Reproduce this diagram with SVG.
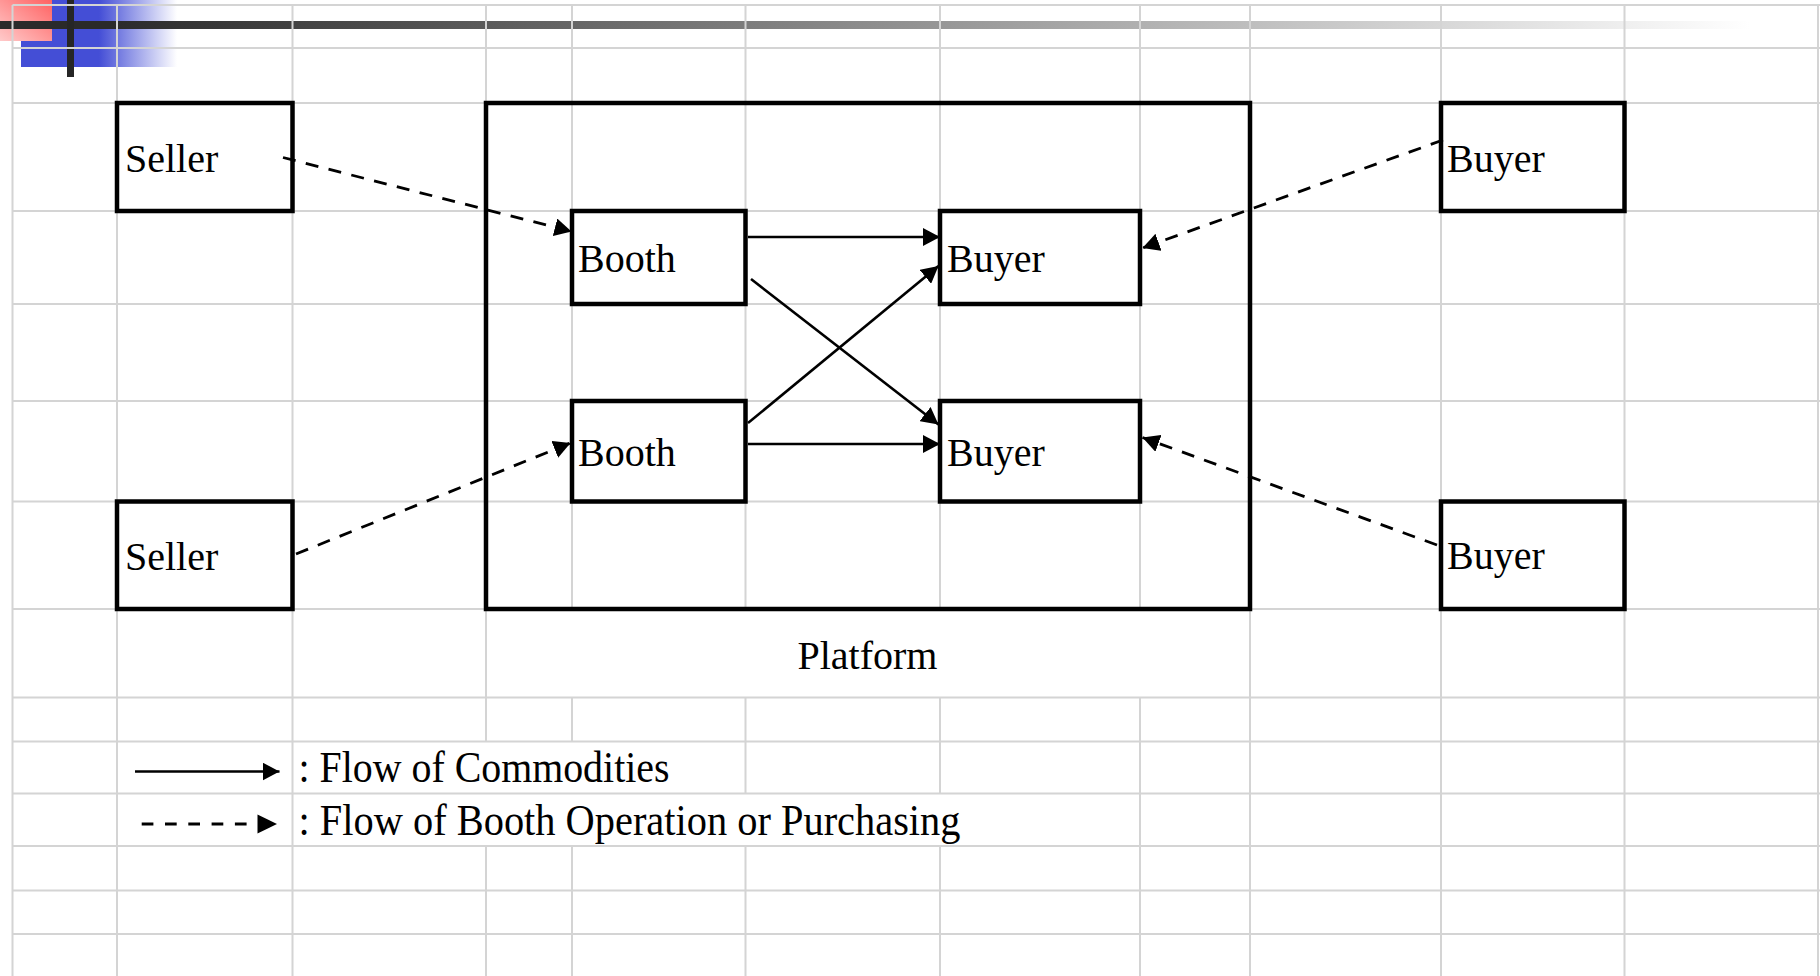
<svg xmlns="http://www.w3.org/2000/svg" width="1820" height="976" viewBox="0 0 1820 976">
  <defs>
    <linearGradient id="blueFade" gradientUnits="userSpaceOnUse" x1="21" y1="0" x2="177" y2="0">
      <stop offset="0" stop-color="#444ed6"/>
      <stop offset="0.5" stop-color="#444ed6"/>
      <stop offset="1" stop-color="#444ed6" stop-opacity="0"/>
    </linearGradient>
    <linearGradient id="redFade" x1="0" y1="1" x2="1" y2="0">
      <stop offset="0" stop-color="#ffcaca"/>
      <stop offset="1" stop-color="#ff6262"/>
    </linearGradient>
    <linearGradient id="barFade" gradientUnits="userSpaceOnUse" x1="110" y1="0" x2="1750" y2="0">
      <stop offset="0" stop-color="#2a2a2a"/>
      <stop offset="1" stop-color="#ffffff"/>
    </linearGradient>
    <marker id="ah" markerUnits="userSpaceOnUse" markerWidth="18" markerHeight="18" refX="17" refY="9" orient="auto">
      <path d="M0,0 L17,9 L0,18 Z" fill="#000"/>
    </marker>
    <style>
      .grid { stroke: #d4d4d4; stroke-width: 2; fill: none; }
      .box { fill: #fff; stroke: #000; stroke-width: 4.5; }
      .frame { fill: none; stroke: #000; stroke-width: 4.5; }
      .lbl { font-family: "Liberation Serif", "Times New Roman", serif; font-size: 40px; fill: #000; }
      .legend { font-family: "Liberation Serif", "Times New Roman", serif; font-size: 44px; fill: #000; }
      .solid { stroke: #000; stroke-width: 2.6; fill: none; marker-end: url(#ah); }
      .dash { stroke: #000; stroke-width: 2.8; fill: none; stroke-dasharray: 13 10.5; marker-end: url(#ah); }
      .head { fill: #000; }
    </style>
  </defs>

  <rect width="1820" height="976" fill="#fff"/>

  <!-- corner ornament -->
  <g id="ornament">
    <rect x="21" y="0" width="156" height="67" fill="url(#blueFade)"/>
    <rect x="0" y="0" width="52" height="41" fill="url(#redFade)"/>
    <rect x="0" y="21" width="1760" height="8" fill="url(#barFade)"/>
    <rect x="67" y="0" width="7" height="77" fill="#262626"/>
  </g>

  <!-- sheet grid -->
  <g id="grid" class="grid">
    <path d="M12.5,5 V976 M117,5 V976 M292.5,5 V976
             M486,5 V741.5 M486,846 V976
             M572,5 V609 M572,697.5 V741.5 M572,846 V976
             M745.5,5 V609 M745.5,697.5 V793.5 M745.5,846 V976
             M940,5 V609 M940,697.5 V793.5 M940,846 V976
             M1140,5 V609 M1140,697.5 V976
             M1250,5 V976 M1441,5 V976 M1624.5,5 V976 M1818,5 V976"/>
    <path d="M12.5,5 H1820 M12.5,48 H1820 M12.5,103 H1820 M12.5,211 H1820
             M12.5,304 H1820 M12.5,401 H1820 M12.5,501.5 H1820 M12.5,609 H1820
             M12.5,697.5 H1820 M12.5,741.5 H1820 M12.5,793.5 H1820 M12.5,846 H1820
             M12.5,890.5 H1820 M12.5,934 H1820"/>
  </g>

  <!-- platform frame -->
  <g id="platform">
    <rect class="frame" x="486" y="103" width="764" height="506"/>
    <text class="lbl" x="867.5" y="668.5" text-anchor="middle" font-size="41">Platform</text>
  </g>

  <g id="seller1">
    <rect class="box" x="117" y="103" width="175.5" height="108"/>
    <text class="lbl" x="125" y="172">Seller</text>
  </g>
  <g id="seller2">
    <rect class="box" x="117" y="501.5" width="175.5" height="107.5"/>
    <text class="lbl" x="125" y="570">Seller</text>
  </g>

  <g id="booth1">
    <rect class="box" x="572" y="211" width="173.5" height="93"/>
    <text class="lbl" x="578" y="272">Booth</text>
  </g>
  <g id="booth2">
    <rect class="box" x="572" y="401" width="173.5" height="100.5"/>
    <text class="lbl" x="578" y="466">Booth</text>
  </g>

  <g id="buyer-in1">
    <rect class="box" x="940" y="211" width="200" height="93"/>
    <text class="lbl" x="947" y="272">Buyer</text>
  </g>
  <g id="buyer-in2">
    <rect class="box" x="940" y="401" width="200" height="100.5"/>
    <text class="lbl" x="947" y="466">Buyer</text>
  </g>

  <g id="buyer-out1">
    <rect class="box" x="1441" y="103" width="183.5" height="108"/>
    <text class="lbl" x="1447" y="171.5">Buyer</text>
  </g>
  <g id="buyer-out2">
    <rect class="box" x="1441" y="501.5" width="183.5" height="107.5"/>
    <text class="lbl" x="1447" y="569">Buyer</text>
  </g>

  <!-- flows -->
  <g id="connectors">
    <path class="solid" d="M748,237 L940,237"/>
    <path class="solid" d="M748,444 L940,444"/>
    <path class="solid" d="M751,279 L938.5,424.5"/>
    <path class="solid" d="M748,423 L938.5,266"/>
    <path class="dash" d="M283,157.5 L571.5,231.5"/>
    <path class="dash" d="M296,554 L570.5,443"/>
    <path class="dash" d="M1443,140 L1142.5,248"/>
    <path class="dash" d="M1437,545 L1142.5,437.5"/>
  </g>

  <!-- key -->
  <g id="legend">
    <path class="solid" d="M135,771.5 L279.5,771.5"/>
    <path d="M141.7,824 L247,824" stroke="#000" stroke-width="2.8" stroke-dasharray="11.7 11.6"/>
    <path class="head" d="M257.5,814.5 L277,824 L257.5,833.5 Z"/>
    <text class="legend" x="298.5" y="782" textLength="371" lengthAdjust="spacingAndGlyphs">: Flow of Commodities</text>
    <text class="legend" x="298.5" y="834.5" textLength="662" lengthAdjust="spacingAndGlyphs">: Flow of Booth Operation or Purchasing</text>
  </g>
</svg>
